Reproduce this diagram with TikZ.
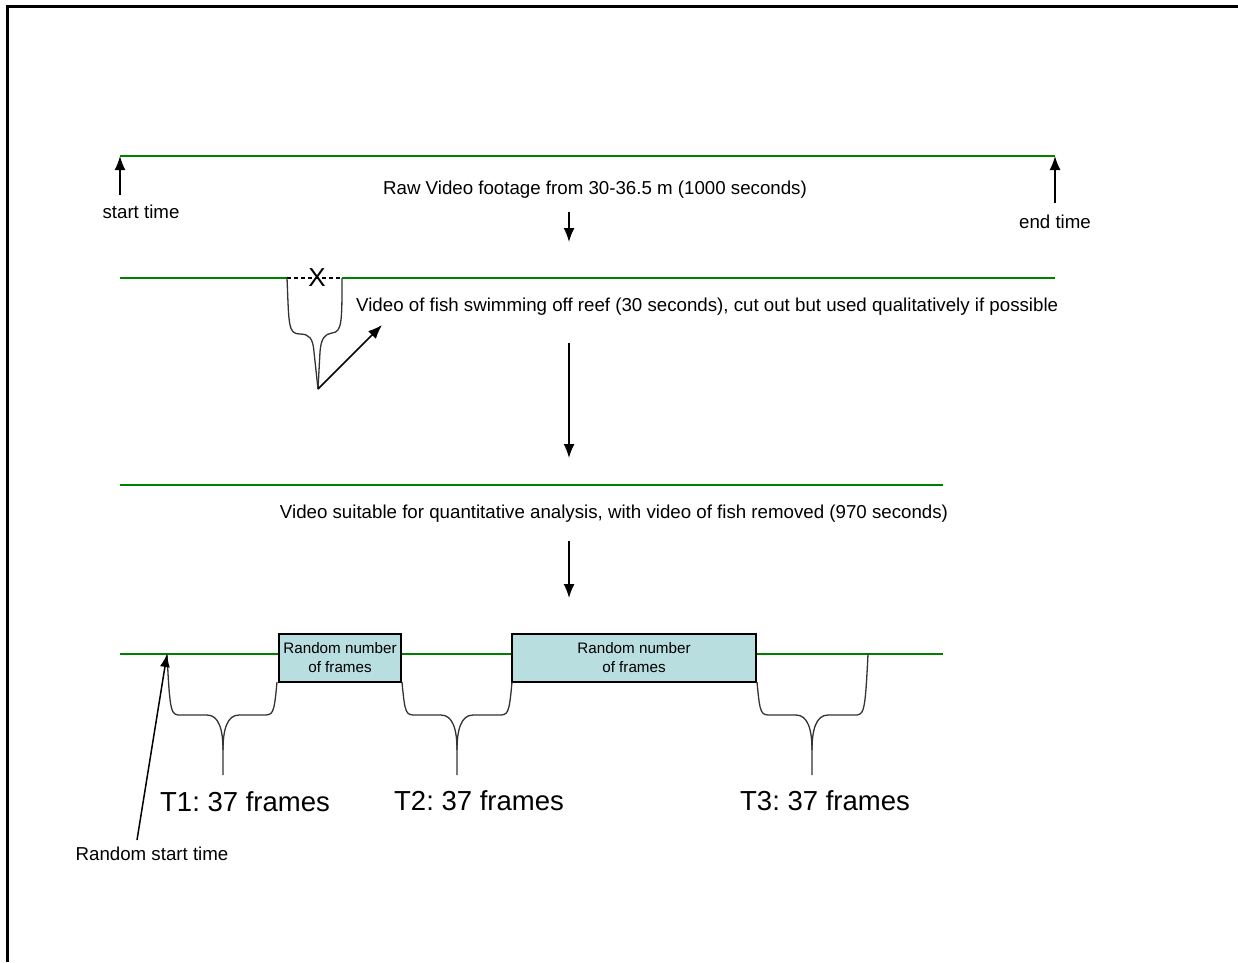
\documentclass[tikz,border=0pt]{standalone}
\usepackage{fontspec}
\setmainfont{Liberation Sans}
\usetikzlibrary{arrows.meta}
\definecolor{tlgreen}{RGB}{0,128,0}
\definecolor{boxfill}{RGB}{184,222,224}
\newcommand\mybrace[7]{%
 \draw[bracestyle] (#1,#2) .. controls (#1+3,#6) and (#1+4,#6) .. (#1+14,#6) -- (#5-16,#6)
   .. controls (#5-4,#6) and (#5,#6+15) .. (#5,#6+35) -- (#5,#7);
 \draw[bracestyle] (#3,#4) .. controls (#3-3,#6) and (#3-4,#6) .. (#3-14,#6) -- (#5+16,#6)
   .. controls (#5+4,#6) and (#5,#6+15) .. (#5,#6+35);
}
\frenchspacing
\begin{document}
\begin{tikzpicture}[x=1pt,y=-1pt,
  tline/.style={draw=tlgreen, line width=1.2pt},
  arr/.style={line width=1.6pt, -{Latex[length=14pt,width=11pt]}},
  lbl/.style={font=\fontsize{18.7}{22}\selectfont, inner sep=0pt},
  big/.style={font=\fontsize{27.5}{32}\selectfont, inner sep=0pt},
  framebox/.style={draw=black, fill=boxfill, line width=1.2pt, inner sep=0pt,
    font=\fontsize{15.2}{19}\selectfont, align=center, minimum height=48pt},
  bracestyle/.style={draw=black!80, line width=1.3pt}]
\useasboundingbox (0,0) rectangle (1238,962);
% frame
\draw[line width=3pt] (7,962) -- (7,6) -- (1238,6);

% ---- row 1
\coordinate (a1) at (120,156);
\coordinate (b1) at (1055,156);
\draw[tline] (a1) -- (b1);
\node[lbl] (start) at (141,212) {start time};
\node[lbl] (end) at (1055,222) {end time};
\coordinate (sa) at (120,195);
\coordinate (ea) at (1055,203);
\draw[arr] (sa) -- (a1);
\draw[arr] (ea) -- (b1);
\node[lbl] (raw) at (595,190) {Raw Video footage from 30-36.5 m (1000 seconds)};
\coordinate (d1s) at (569,212);
\coordinate (d1e) at (569,242);
\draw[arr] (d1s) -- (d1e);

% ---- row 2
\coordinate (a2) at (120,278);
\coordinate (c2l) at (287,278);
\coordinate (c2r) at (342,278);
\coordinate (b2) at (1055,278);
\draw[tline] (a2) -- (c2l);
\draw[tline] (c2r) -- (b2);
\draw[line width=1.2pt, dash pattern=on 4pt off 3pt] (c2l) -- (c2r);
\node[inner sep=0pt, font=\fontsize{26}{30}\selectfont] (xmark) at (317,278) {X};
\coordinate (ftip) at (318,389);
\draw[bracestyle] (c2l) .. controls (289,325) and (288,334) .. (300,334)
   .. controls (309,334) and (313,338) .. (314,352) -- (ftip);
\draw[bracestyle] (c2r) .. controls (342,322) and (342,332) .. (332,333)
   .. controls (325,334) and (321,338) .. (320,352) -- (ftip);
\coordinate (fhead) at (382,325);
\draw[arr] (ftip) -- (fhead);
\node[lbl, anchor=west] (fish) at (356,307) {Video of fish swimming off reef (30 seconds), cut out but used qualitatively if possible};
\coordinate (d2s) at (569,343);
\coordinate (d2e) at (569,458);
\draw[arr] (d2s) -- (d2e);

% ---- row 3
\coordinate (a3) at (120,485);
\coordinate (b3) at (943,485);
\draw[tline] (a3) -- (b3);
\node[lbl] (suit) at (614,514) {Video suitable for quantitative analysis, with video of fish removed (970 seconds)};
\coordinate (d3s) at (569,541);
\coordinate (d3e) at (569,598);
\draw[arr] (d3s) -- (d3e);

% ---- row 4
\coordinate (a4) at (120,654);
\coordinate (b4) at (943,654);
\draw[tline] (a4) -- (b4);
\node[framebox, minimum width=122pt] (box1) at (340,658) {Random number\\of frames};
\node[framebox, minimum width=244pt] (box2) at (634,658) {Random number\\of frames};

\mybrace{167}{654}{277}{682}{223}{715}{775}
\mybrace{402}{682}{512}{682}{457}{715}{775}
\mybrace{757}{682}{868}{654}{812}{715}{775}

\node[big] (t1) at (245,802) {T1: 37 frames};
\node[big] (t2) at (479,801) {T2: 37 frames};
\node[big] (t3) at (825,801) {T3: 37 frames};

\node[lbl] (rst) at (152,854) {Random start time};
\coordinate (rsa) at (137,840);
\coordinate (rsb) at (167,654);
\draw[line width=1.5pt, -{Latex[length=13pt,width=10pt]}] (rsa) -- (rsb);
\end{tikzpicture}
\end{document}
